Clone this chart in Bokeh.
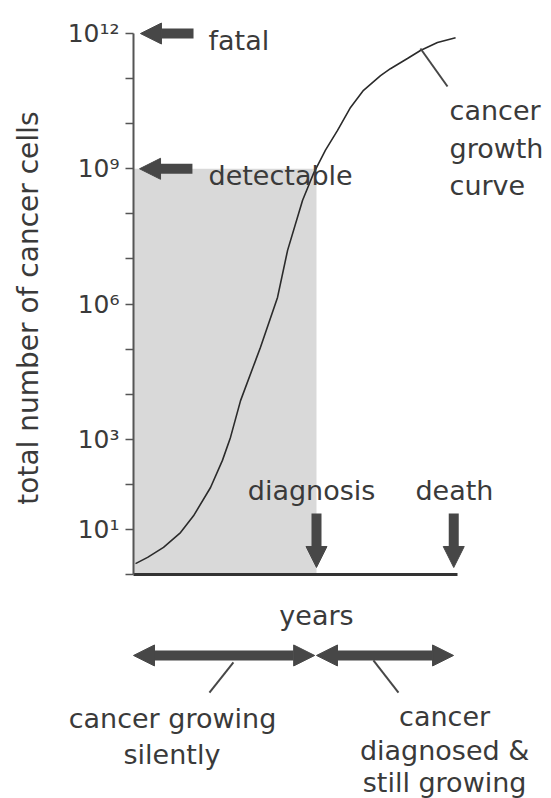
from math import pi
from bokeh.plotting import figure
from bokeh.models import FixedTicker, Arrow, NormalHead, ColumnDataSource
from bokeh.core.properties import value
from bokeh.embed import file_html
from bokeh.resources import INLINE

# ---------------- data ----------------
years = [0.11, 0.77, 1.64, 2.57, 3.28, 4.21, 4.86, 5.30, 5.85, 6.94, 7.87, 8.42,
         9.24, 9.84, 10.49, 11.15, 11.86, 12.57, 13.50, 14.04, 14.97, 15.68, 16.61, 17.60]
cells = [1.74, 2.4, 4.0, 8.5, 20, 85, 340, 1100, 7200, 1.1e5, 1.4e6, 1.55e7,
         2.0e8, 7.9e8, 2.6e9, 7.1e9, 2.3e10, 5.5e10, 1.17e11, 1.66e11, 2.8e11, 4.2e11, 6.3e11, 8.1e11]

start_year = 0.0
diagnosis_year = 10.0
death_year = 17.5
axis_end_year = 17.7
baseline_cells = 1
detectable_cells = 1e9
fatal_cells = 1e12

decade_ticks = [10 ** k for k in range(0, 13)]
tick_labels = {10: "10¹", 10 ** 3: "10³", 10 ** 6: "10⁶", 10 ** 9: "10⁹", 10 ** 12: "10¹²"}

y_title = "total number of cancer cells"

# annotation texts (positions in data units: years, cells)
note_text = ["fatal", "detectable", "cancer", "growth", "curve", "diagnosis", "death", "years",
             "cancer growing", "silently", "cancer", "diagnosed &", "still growing"]
note_x = [4.1, 4.1, 17.27, 17.27, 17.27, 9.73, 17.54, 10.0, 2.13, 2.10, 17.0, 17.0, 17.0]
note_y = [7.0e11, 7.1e8, 1.96e10, 2.8e9, 4.26e8, 73, 73, 0.123, 6.4e-4, 1.0e-4, 7.1e-4, 1.25e-4, 2.4e-5]
note_align = ["left", "left", "left", "left", "left", "center", "center", "center",
              "center", "center", "center", "center", "center"]

FONT = "DejaVu Sans"
INK = "#3a3a3a"
ARROW = "#474747"

p = figure(width=551, height=798, y_axis_type="log",
           x_range=(-7.268, 22.842), y_range=(10 ** -4.969, 10 ** 12.733),
           output_backend="svg", toolbar_location=None,
           min_border_left=0, min_border_right=0, min_border_top=0, min_border_bottom=0)
p.grid.visible = False
p.outline_line_color = None

# y axis, drawn at year 0
ya = p.yaxis[0]
ya.fixed_location = start_year
ya.ticker = FixedTicker(ticks=decade_ticks, minor_ticks=[])
ya.major_label_overrides = {t: tick_labels.get(t, "") for t in decade_ticks}
ya.bounds = (baseline_cells, fatal_cells)
ya.axis_line_color = "#555555"
ya.axis_line_width = 2
ya.major_tick_line_color = "#555555"
ya.major_tick_line_width = 1.5
ya.major_tick_out = 8
ya.major_tick_in = 0
ya.minor_tick_line_color = None
ya.major_label_text_font = FONT
ya.major_label_text_font_size = "25px"
ya.major_label_text_color = INK
ya.major_label_standoff = 6

# x axis (line only, at 10^0)
xa = p.xaxis[0]
xa.fixed_location = baseline_cells
xa.bounds = (start_year, axis_end_year)
xa.ticker = FixedTicker(ticks=[], minor_ticks=[])
xa.major_tick_line_color = None
xa.minor_tick_line_color = None
xa.major_label_text_font_size = "0px"
xa.major_label_standoff = 0
xa.axis_line_width = 3
xa.axis_line_color = "#333333"

# shaded region: silent growth before detection
p.quad(left=[start_year], right=[diagnosis_year], bottom=[baseline_cells], top=[detectable_cells],
       fill_color="#d9d9d9", line_color=None)

# growth curve
p.line(years, cells, line_color="#2b2b2b", line_width=1.6)


def head():
    return NormalHead(size=21, fill_color=ARROW, line_color=ARROW, line_width=1)


# left-pointing arrows for fatal and detectable
p.add_layout(Arrow(end=head(), x_start=3.28, y_start=fatal_cells, x_end=0.38, y_end=fatal_cells,
                   line_width=10, line_color=ARROW))
p.add_layout(Arrow(end=head(), x_start=3.22, y_start=detectable_cells, x_end=0.33, y_end=detectable_cells,
                   line_width=10, line_color=ARROW))
# down arrows at diagnosis and death
p.add_layout(Arrow(end=head(), x_start=diagnosis_year, y_start=22.5, x_end=diagnosis_year, y_end=1.43,
                   line_width=10, line_color=ARROW))
p.add_layout(Arrow(end=head(), x_start=death_year, y_start=22.5, x_end=death_year, y_end=1.43,
                   line_width=10, line_color=ARROW))
# phase double arrows
p.add_layout(Arrow(start=head(), end=head(), x_start=start_year, y_start=0.016, x_end=9.9, y_end=0.016,
                   line_width=10, line_color=ARROW))
p.add_layout(Arrow(start=head(), end=head(), x_start=diagnosis_year, y_start=0.016, x_end=17.49, y_end=0.016,
                   line_width=10, line_color=ARROW))

# leader lines
p.segment(x0=[15.68, 4.15, 13.11], y0=[4.66e11, 2.41e-3, 1.24e-2],
          x1=[17.16, 5.46, 14.48], y1=[6.68e10, 1.12e-2, 2.41e-3],
          line_color=ARROW, line_width=2)

src = ColumnDataSource(dict(text=note_text, x=note_x, y=note_y, align=note_align))
p.text(x="x", y="y", text="text", text_align="align", source=src,
       text_font=value(FONT), text_font_size="27px", text_color=INK, text_baseline="alphabetic")

# y axis title
p.text(x=[-5.74], y=[10 ** 5.91], text=[y_title], angle=pi / 2,
       text_align="center", text_baseline="middle", text_font=value(FONT),
       text_font_size="28px", text_color=INK)

open("out.html", "w").write(file_html(p, INLINE))
